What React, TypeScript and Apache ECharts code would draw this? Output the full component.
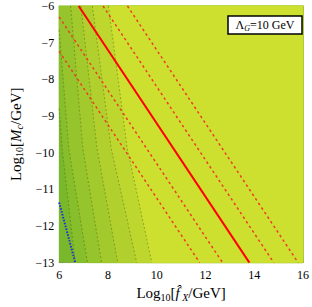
import React, { useEffect, useRef } from 'react';
import * as echarts from 'echarts';

const X_MIN = 6, X_MAX = 16, Y_MIN = -13, Y_MAX = -6;

// filled contour band colours, from lower-left (darkest) to upper-right
const bandColors = ['#79b82a', '#87be2b', '#95c42c', '#a3ca2d', '#b1d02e', '#bed72f', '#cde030'];

// contour boundaries (data coords), each from top/left edge to bottom edge
const contours: number[][][] = [
  [[6, -8.8], [6.12, -9.88], [6.66, -13]],
  [[6, -6.65], [6.39, -9.88], [7.16, -13]],
  [[6.47, -6], [6.97, -9.88], [7.74, -13]],
  [[6.89, -6], [7.55, -9.88], [8.4, -13]],
  [[7.36, -6], [8.13, -9.88], [9.18, -13]],
  [[8.02, -6], [8.79, -9.88], [9.8, -13]],
];

const solidLine = [[6.8, -6], [13.8, -13]];
const dashedLines = [
  [[6, -7.24], [11.76, -13]],
  [[6, -6.3], [12.7, -13]],
  [[7.8, -6], [14.8, -13]],
  [[8.8, -6], [15.8, -13]],
];
const blueLine = [[6, -11.36], [6.66, -13]];

const FONT = 'Liberation Serif';

function minus(v: number) {
  return v < 0 ? '\u2212' + Math.abs(v) : String(v);
}

export default function App() {
  const ref = useRef<HTMLDivElement>(null);
  useEffect(() => {
    if (!ref.current) return;
    const chart = echarts.init(ref.current, undefined, { renderer: 'svg' });

    const bandPolys: number[][][] = [
      [[X_MIN, Y_MAX], [X_MIN, Y_MIN], [X_MAX, Y_MIN], [X_MAX, Y_MAX]],
    ];
    contours.forEach((c) => {
      const pts = c.map((p) => p.slice());
      pts.push([X_MAX, Y_MIN], [X_MAX, Y_MAX]);
      if (c[0][0] === X_MIN) pts.push([X_MIN, Y_MAX]);
      bandPolys.push(pts);
    });

    const axisCommon = {
      axisLine: { lineStyle: { color: '#999', width: 1 } },
      axisTick: { inside: true, length: 5, lineStyle: { color: '#777' } },
      minorTick: { show: true, length: 2.5, lineStyle: { color: '#777' } },
      splitLine: { show: false },
    };

    const series: any[] = [
      {
        type: 'custom',
        renderItem: (params: any, api: any) => {
          const i = api.value(0);
          const pts = bandPolys[i].map((p) => api.coord(p));
          return {
            type: 'polygon',
            shape: { points: pts },
            style: { fill: bandColors[i], stroke: bandColors[i], lineWidth: 0.5 },
          };
        },
        data: bandPolys.map((_, i) => [i]),
        encode: { x: -1, y: -1 },
        silent: true,
        z: 1,
      },
    ];
    contours.forEach((c) => {
      series.push({
        type: 'line',
        data: c,
        symbol: 'none',
        lineStyle: { color: 'rgba(70,90,10,0.55)', width: 0.8, type: [2, 2] },
        silent: true,
        z: 2,
      });
    });
    dashedLines.forEach((d) => {
      series.push({
        type: 'line',
        data: d,
        symbol: 'none',
        lineStyle: { color: '#ef3b24', width: 1.5, type: [2.5, 3] },
        silent: true,
        z: 3,
      });
    });
    series.push({
      type: 'line',
      data: solidLine,
      symbol: 'none',
      lineStyle: { color: '#ff0000', width: 2 },
      silent: true,
      z: 4,
    });
    series.push({
      type: 'line',
      data: blueLine,
      symbol: 'none',
      lineStyle: { color: '#1f2ee0', width: 2, type: [1.5, 1.5] },
      silent: true,
      z: 4,
    });

    const richBase = {
      n: { fontFamily: FONT, fontSize: 15, color: '#000', lineHeight: 18, verticalAlign: 'middle' },
      i: { fontFamily: FONT, fontSize: 15, color: '#000', fontStyle: 'italic', lineHeight: 18, verticalAlign: 'middle' },
      s: { fontFamily: FONT, fontSize: 10, color: '#000', lineHeight: 10, verticalAlign: 'bottom' },
      si: { fontFamily: FONT, fontSize: 10, color: '#000', fontStyle: 'italic', lineHeight: 10, verticalAlign: 'bottom' },
    };

    chart.setOption({
      animation: false,
      grid: { left: 45, right: 9, top: 6, bottom: 41 },
      xAxis: [
        {
          ...axisCommon,
          type: 'value',
          min: X_MIN,
          max: X_MAX,
          interval: 2,
          minorTick: { ...axisCommon.minorTick, splitNumber: 4 },
          axisLabel: { fontFamily: FONT, fontSize: 12, color: '#000', margin: 6, formatter: minus },
          name: '{n|Log}{s|10}{n|[}{i|f\u0302}{si| X}{n|/GeV]}',
          nameLocation: 'middle',
          nameGap: 21,
          nameTextStyle: { rich: richBase },
        },
        {
          ...axisCommon,
          type: 'value',
          position: 'top',
          min: X_MIN,
          max: X_MAX,
          interval: 2,
          minorTick: { ...axisCommon.minorTick, splitNumber: 4 },
          axisLabel: { show: false },
        },
      ],
      yAxis: [
        {
          ...axisCommon,
          type: 'value',
          min: Y_MIN,
          max: Y_MAX,
          interval: 1,
          minorTick: { ...axisCommon.minorTick, splitNumber: 5 },
          axisLabel: { fontFamily: FONT, fontSize: 12, color: '#000', margin: 5, formatter: minus },
          name: '{n|Log}{s|10}{n|[}{i|M}{si|c}{n|/GeV]}',
          nameLocation: 'middle',
          nameGap: 24,
          nameRotate: 90,
          nameTextStyle: { rich: richBase },
        },
        {
          ...axisCommon,
          type: 'value',
          position: 'right',
          min: Y_MIN,
          max: Y_MAX,
          interval: 1,
          minorTick: { ...axisCommon.minorTick, splitNumber: 5 },
          axisLabel: { show: false },
        },
      ],
      series,
      graphic: [
        {
          type: 'rect',
          shape: { x: 228, y: 16, width: 74, height: 18 },
          style: { fill: '#fff', stroke: '#000', lineWidth: 1.5 },
          z: 100,
        },
        {
          type: 'text',
          x: 265,
          y: 25,
          style: {
            text: '{a|\u039B}{g|G}{a|=10 GeV}',
            align: 'center',
            verticalAlign: 'middle',
            rich: {
              a: { fontFamily: FONT, fontSize: 12, color: '#000', lineHeight: 14, verticalAlign: 'middle' },
              g: { fontFamily: FONT, fontSize: 8, fontStyle: 'italic', color: '#000', lineHeight: 8, verticalAlign: 'bottom' },
            },
          },
          z: 101,
        },
      ],
    });
    return () => chart.dispose();
  }, []);
  return <div ref={ref} style={{ width: 312, height: 307, position: 'absolute', left: 0, top: 0 }} />;
}
